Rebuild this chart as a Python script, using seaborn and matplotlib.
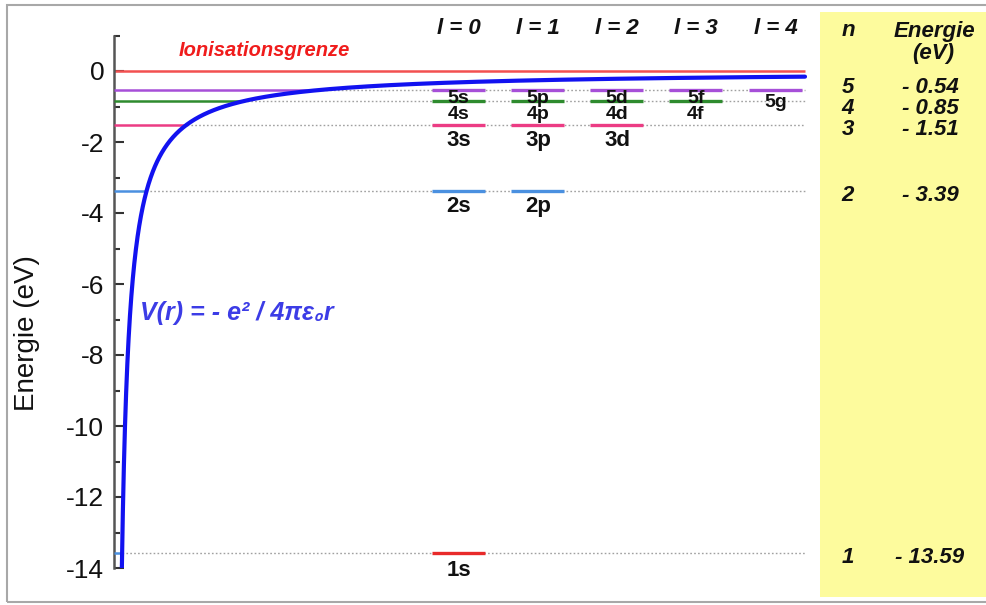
import numpy as np
import pandas as pd
import seaborn as sns
import matplotlib
matplotlib.use("Agg")
import matplotlib.pyplot as plt
from matplotlib.patches import Rectangle
from matplotlib.ticker import MultipleLocator

# ---------------- data ----------------
n_values = [1, 2, 3, 4, 5]
energies = [-13.59, -3.39, -1.51, -0.85, -0.54]
energy_labels = ["- 13.59", "- 3.39", "- 1.51", "- 0.85", "- 0.54"]
l_values = [0, 1, 2, 3, 4]
l_letters = ["s", "p", "d", "f", "g"]
ionisation_energy = 0.0
coulomb_k = 110.0          # constant of V(r) = -k / r in the chart's r units
r_end = 691.0

# ---------------- style / layout ----------------
sns.set_theme(style="white")
plt.rcParams["font.family"] = ["Liberation Sans", "DejaVu Sans"]
plt.rcParams["axes.unicode_minus"] = False

level_colors = {1: "#e82a2a", 2: "#4a90e0", 3: "#ec3c84", 4: "#2e8b2e", 5: "#a64fd8"}
left_colors = {1: "#4a90e0", 2: "#4a90e0", 3: "#ec3c84", 4: "#2e8b2e", 5: "#a64fd8"}
col_centers = [344.5, 424, 503, 582, 662]
half_w = 26.5
label_size = {1: 16, 2: 16, 3: 16, 4: 14, 5: 14}
label_drop = {1: 16.0, 2: 14.7, 3: 15.4, 4: 12.8, 5: 9.0}   # points below line (baseline)
label_drop_5g = 11.9
table_nudge = {1: -2.6, 2: -2.7, 3: -3.2, 4: -5.4, 5: 1.6}  # points

fig = plt.figure(figsize=(9.87, 6.05), dpi=100)

# outer frame and yellow table background
fig.patches.append(Rectangle((7 / 987, 3 / 605), 990 / 987, 597 / 605, transform=fig.transFigure,
                             fill=False, edgecolor="#a8a8a8", lw=1.5, zorder=-2))
fig.patches.append(Rectangle((820 / 987, 8 / 605), 170 / 987, 585 / 605, transform=fig.transFigure,
                             facecolor="#fdfb9d", edgecolor="none", zorder=-1))

ax = fig.add_axes([114 / 987, 37 / 605, 700 / 987, 532.5 / 605])
ax.patch.set_alpha(0)

# Coulomb potential curve
r = np.geomspace(coulomb_k / 14.0, r_end, 600)
df_curve = pd.DataFrame({"r": r, "V": -coulomb_k / r})
sns.lineplot(data=df_curve, x="r", y="V", ax=ax, color="#1212f0", lw=3.0, zorder=5, sort=False)

# ionisation limit
ax.hlines(ionisation_energy, 0, r_end, color="#f25050", lw=1.8, zorder=2)
ax.text(150, 0.59, "Ionisationsgrenze", color="#f01c1c", fontsize=14.5, fontweight="bold",
        fontstyle="italic", ha="center", va="center")

# energy levels
for n, E, elab in zip(n_values, energies, energy_labels):
    r_cross = coulomb_k / abs(E)
    ax.hlines(E, 0, r_cross, color=left_colors[n], lw=1.8, zorder=3)
    ax.hlines(E, r_cross, r_end, color="#a0a0a0", lw=1.0, linestyles=(0, (1.2, 1.6)), zorder=1)
    for l in l_values:
        if l >= n:
            continue
        xc = col_centers[l]
        ax.hlines(E, xc - half_w, xc + half_w, color=level_colors[n], lw=2.4, zorder=4)
        drop = label_drop_5g if (n == 5 and l == 4) else label_drop[n]
        ax.annotate(f"{n}{l_letters[l]}", xy=(xc, E), xytext=(0, -drop), textcoords="offset points",
                    ha="center", va="baseline", fontsize=label_size[n], fontweight="bold",
                    color="#111111", zorder=6)
    # table entries
    ax.annotate(str(n), xy=(848 / 987, E), xycoords=("figure fraction", "data"),
                xytext=(0, table_nudge[n]), textcoords="offset points", ha="center", va="center",
                fontsize=16, fontweight="bold", fontstyle="italic", color="#111111",
                annotation_clip=False)
    ax.annotate(elab, xy=(930 / 987, E), xycoords=("figure fraction", "data"),
                xytext=(0, table_nudge[n]), textcoords="offset points", ha="center", va="center",
                fontsize=16, fontweight="bold", fontstyle="italic", color="#111111",
                annotation_clip=False)

# column headers
for l in l_values:
    ax.text(col_centers[l], 1.21, f"l = {l}", ha="center", va="center", fontsize=16,
            fontweight="bold", fontstyle="italic", color="#111111")

# table headers
fig.text(848 / 987, 1 - 30 / 605, "n", ha="center", va="center", fontsize=16,
         fontweight="bold", fontstyle="italic", color="#111111")
fig.text(934 / 987, 1 - 31 / 605, "Energie", ha="center", va="center", fontsize=16,
         fontweight="bold", fontstyle="italic", color="#111111")
fig.text(933 / 987, 1 - 53 / 605, "(eV)", ha="center", va="center", fontsize=16,
         fontweight="bold", fontstyle="italic", color="#111111")

# formula
ax.text(26, -6.82, "V(r) = - e² / 4πε₀r", ha="left", va="center", fontsize=18,
        fontweight="bold", fontstyle="italic", color="#3c3ce6")

# axes styling
ax.set_xlim(0, 700)
ax.set_ylim(-14, 1)
ax.set_xticks([])
ax.set_xlabel("")
ax.yaxis.set_major_locator(MultipleLocator(2))
ax.yaxis.set_minor_locator(MultipleLocator(1))
for s in ["top", "right", "bottom"]:
    ax.spines[s].set_visible(False)
ax.spines["left"].set_color("#555555")
ax.spines["left"].set_linewidth(1.8)
ax.tick_params(axis="y", which="both", left=True, direction="in", color="#333333", width=1.5)
ax.tick_params(axis="y", which="major", length=7.5, labelsize=19, pad=7, labelcolor="#111111")
ax.tick_params(axis="y", which="minor", length=4.5)
ax.set_ylabel("Energie (eV)", fontsize=20, color="#111111")
ax.yaxis.set_label_coords(-0.106, 0.441)

fig.savefig("out.png", dpi=100)
